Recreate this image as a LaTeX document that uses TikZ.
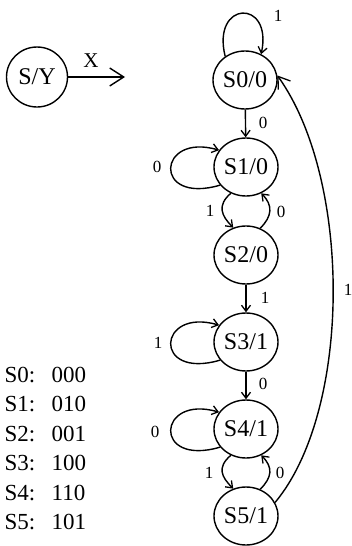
\documentclass[tikz,border=0pt]{standalone}
\usepackage{fontspec}
\setmainfont{Liberation Serif}
\usetikzlibrary{shapes.geometric,arrows.meta}
\begin{document}
\begin{tikzpicture}[x=1pt,y=-1pt,
  line width=1.4pt,
  state/.style={draw,ellipse,minimum width=64pt,minimum height=58pt,inner sep=0pt,font=\fontsize{24}{24}\selectfont},
  lab/.style={font=\fontsize{17}{17}\selectfont,inner sep=0pt},
  tab/.style={font=\fontsize{23}{23}\selectfont,inner sep=0pt,anchor=base west},
  arr/.style={-{Straight Barb[length=6pt,width=9pt,line width=1.3pt]}},
  bigarr/.style={-{Straight Barb[length=11pt,width=15pt,line width=1.3pt]}}]
\useasboundingbox (0,0) rectangle (351,546);

% legend
\node[state,ellipse,minimum width=61pt,minimum height=60pt] (SY) at (37,77) {S/Y};
\coordinate (Xend) at (125,77);
\draw[-{Straight Barb[length=14pt,width=18pt,line width=1.4pt]}] (SY) -- (Xend);
\node[font=\fontsize{21}{21}\selectfont,inner sep=0pt] (Xl) at (91,61) {X};

% states
\node[state] (S0) at (245,80) {S0/0};
\node[state] (S1) at (246,167) {S1/0};
\node[state] (S2) at (246,255) {S2/0};
\node[state] (S3) at (246,342) {S3/1};
\node[state] (S4) at (246,429) {S4/1};
\node[state] (S5) at (246,516) {S5/1};

% S0 loop
\draw[arr] (S0.130) .. controls +(-14,-56) and +(12,-56) .. (S0.58);
\node[lab] (l0) at (278,16) {1};

% straight transitions
\draw[arr] (S0) -- (S1);
\node[lab] (l01) at (263,123) {0};
\draw[arr] (S2) -- (S3);
\node[lab] (l23) at (265,298) {1};
\draw[arr] (S3) -- (S4);
\node[lab] (l34) at (263,384) {0};

% left loops
\draw[arr] (S1.215) .. controls +(-68,20) and +(-62,-18) .. (S1.148);
\node[lab] (l1) at (157,167) {0};
\draw[arr] (S3.215) .. controls +(-68,20) and +(-62,-18) .. (S3.148);
\node[lab] (l3) at (158,343) {1};
\draw[arr] (S4.215) .. controls +(-68,20) and +(-62,-18) .. (S4.148);
\node[lab] (l4) at (155,432) {0};

% bidirectional pairs
\draw[arr] (S1.240) .. controls +(-14,12) and +(-12,-12) .. (S2.115);
\node[lab] (l12) at (210,211) {1};
\draw[arr] (S2.62) .. controls +(12,-12) and +(12,12) .. (S1.300);
\node[lab] (l21) at (281,212) {0};
\draw[arr] (S4.240) .. controls +(-14,12) and +(-12,-12) .. (S5.115);
\node[lab] (l45) at (209,473) {1};
\draw[arr] (S5.62) .. controls +(12,-12) and +(12,12) .. (S4.300);
\node[lab] (l54) at (280,473) {0};

% long return
\draw[bigarr] (S5.25) .. controls (352,410) and (352,180) .. (S0.8);
\node[lab] (l50) at (348,290) {1};

% encoding table
\node[tab] (t0a) at (4,382) {S0:};   \node[tab] (t0b) at (51,382) {000};
\node[tab] (t1a) at (4,411.5) {S1:}; \node[tab] (t1b) at (51,411.5) {010};
\node[tab] (t2a) at (4,441) {S2:};   \node[tab] (t2b) at (51,441) {001};
\node[tab] (t3a) at (4,470.5) {S3:}; \node[tab] (t3b) at (51,470.5) {100};
\node[tab] (t4a) at (4,500) {S4:};   \node[tab] (t4b) at (51,500) {110};
\node[tab] (t5a) at (4,529.5) {S5:}; \node[tab] (t5b) at (51,529.5) {101};
\end{tikzpicture}
\end{document}
